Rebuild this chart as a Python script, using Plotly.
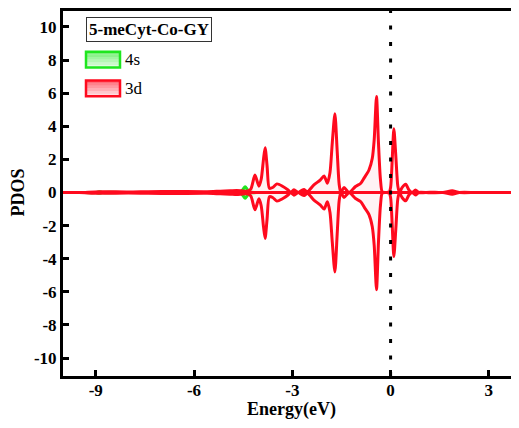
import plotly.graph_objects as go

# ---- data ----
energy = [-10.0, -9.5, -8.9, -8.0, -7.4, -6.6, -5.6, -5.2, -4.9, -4.7, -4.55, -4.4, -4.27, -4.14, -4.02,
          -3.95, -3.88, -3.83, -3.77, -3.7, -3.6, -3.47, -3.3, -3.13, -3.05, -2.95, -2.82, -2.72,
          -2.64, -2.54, -2.34, -2.15, -2.03, -1.93, -1.85, -1.78, -1.70, -1.63, -1.57, -1.52, -1.42,
          -1.27, -1.07, -0.91, -0.8, -0.66, -0.56, -0.50, -0.43, -0.37, -0.31, -0.25, -0.15, -0.05,
          0.0, 0.05, 0.10, 0.16, 0.22, 0.27, 0.35, 0.46, 0.56, 0.66, 0.76, 0.86, 1.2, 1.6, 1.88, 2.1,
          2.6, 3.2, 3.92]

d3_up = [0.0, 0.0, 0.05, 0.03, 0.05, 0.06, 0.05, 0.08, 0.1, 0.12, 0.1, 0.08, 0.2, 1.05, 0.38,
         0.8, 2.0, 2.7, 1.6, 0.25, 0.3, 0.52, 0.38, 0.15, 0.0, 0.16, 0.0, 0.12,
         0.18, 0.05, 0.46, 0.75, 1.0, 0.56, 1.2, 3.0, 4.75, 2.5, 0.5, 0.0, 0.3,
         0.0, 0.36, 0.56, 0.9, 1.36, 2.05, 3.2, 5.8, 3.0, 0.8, 0.0, 0.0, 0.0,
         0.3, 2.0, 3.85, 2.2, 0.4, 0.0, 0.3, 0.5, 0.15, 0.0, 0.15, 0.0, 0.02, 0.0, 0.1, 0.0,
         0.0, 0.0, 0.0]

d3_down = [0.0, 0.0, -0.05, -0.03, -0.05, -0.06, -0.05, -0.08, -0.1, -0.12, -0.1, -0.08, -0.2, -1.04, -0.38,
           -0.8, -2.05, -2.77, -1.6, -0.25, -0.3, -0.52, -0.38, -0.15, 0.0, -0.16, 0.0, -0.12,
           -0.18, -0.05, -0.46, -0.75, -1.0, -0.56, -1.2, -3.0, -4.8, -2.5, -0.5, 0.0, -0.3,
           0.0, -0.36, -0.56, -0.9, -1.34, -2.05, -3.2, -5.87, -3.0, -0.8, 0.0, 0.0, 0.0,
           -0.3, -2.0, -3.87, -2.2, -0.4, 0.0, -0.3, -0.5, -0.15, 0.0, -0.15, 0.0, -0.02, 0.0, -0.1, 0.0,
           0.0, 0.0, 0.0]

s4_energy = [-10.0, -9.5, -9.0, -8.9, -8.8, -8.0, -7.2, -6.7, -6.6, -6.5, -5.8, -5.0, -4.6, -4.5, -4.44,
             -4.38, -4.3, -4.1, -3.5, -2.5, -1.0, 0.5, 2.0, 3.0, 3.92]
s4_up = [0.0, 0.0, 0.0, 0.05, 0.0, 0.0, 0.0, 0.0, 0.06, 0.0, 0.0, 0.0, 0.0, 0.2, 0.35,
         0.2, 0.0, 0.0, 0.0, 0.0, 0.0, 0.0, 0.0, 0.0, 0.0]
s4_down = [0.0, 0.0, 0.0, -0.05, 0.0, 0.0, 0.0, 0.0, -0.06, 0.0, 0.0, 0.0, 0.0, -0.2, -0.35,
           -0.2, 0.0, 0.0, 0.0, 0.0, 0.0, 0.0, 0.0, 0.0, 0.0]

x_ticks = [-9, -6, -3, 0, 3]
y_ticks = [-10, -8, -6, -4, -2, 0, 2, 4, 6, 8, 10]
legend_names = ["4s", "3d"]

FONT = "Liberation Serif, Times New Roman, serif"
RED = "#ff0a1e"
GREEN = "#1ee61e"

fig = go.Figure()

for yv in (s4_up, s4_down):
    fig.add_trace(go.Scatter(x=s4_energy, y=yv, mode="lines", name="4s", showlegend=False,
                             line=dict(color=GREEN, width=3, shape="spline", smoothing=0.8),
                             fill="tozeroy", fillcolor="rgba(30,230,30,0.25)"))
for yv in (d3_up, d3_down):
    fig.add_trace(go.Scatter(x=energy, y=yv, mode="lines", name="3d", showlegend=False,
                             line=dict(color=RED, width=3, shape="spline", smoothing=0.7),
                             fill="tozeroy", fillcolor="rgba(255,10,30,0.05)"))

# red baseline through zero (drawn over the green)
fig.add_shape(type="line", x0=0, x1=1, y0=0, y1=0, xref="paper", yref="y",
              line=dict(color=RED, width=3), layer="above")

# Fermi level
fig.add_shape(type="line", x0=0, x1=0, y0=0, y1=1, xref="x", yref="paper",
              line=dict(color="black", width=3, dash="4px,12.5px"), layer="above")

# page -> paper helpers (plot area spans page x 63..519, y 8..376)
def px(v):
    return (v - 63) / 456.0

def py(v):
    return (376 - v) / 368.0

# title box
fig.add_annotation(text="<b>5-meCyt-Co-GY</b>", xref="paper", yref="paper",
                   x=px(86), y=py(14), xanchor="left", yanchor="top", showarrow=False,
                   font=dict(family=FONT, size=17, color="black"),
                   bordercolor="#333", borderwidth=1, borderpad=2, bgcolor="white")

# manual legend
legend_colors = [(GREEN, "rgba(30,230,30,"), (RED, "rgba(255,10,30,")]
legend_tops = [49, 78]
for name, (lc, fc), top in zip(legend_names, legend_colors, legend_tops):
    nstrip = 6
    for i in range(nstrip):
        a = 0.55 * (1 - i / nstrip) + 0.05
        fig.add_shape(type="rect", xref="paper", yref="paper",
                      x0=px(86), x1=px(120), y0=py(top + 16 * (i + 1) / nstrip), y1=py(top + 16 * i / nstrip),
                      line=dict(width=0), fillcolor=fc + f"{a:.2f})", layer="above")
    fig.add_shape(type="rect", xref="paper", yref="paper",
                  x0=px(86), x1=px(120), y0=py(top + 16), y1=py(top),
                  line=dict(color=lc, width=2.5), fillcolor="rgba(0,0,0,0)", layer="above")
    fig.add_annotation(text=name, xref="paper", yref="paper", x=px(123), y=py(top + 8),
                       xanchor="left", yanchor="middle", showarrow=False,
                       font=dict(family=FONT, size=17, color="black"))

# axis titles
fig.add_annotation(text="<b>Energy(eV)</b>", xref="paper", yref="paper", x=px(291), y=py(410),
                   xanchor="center", yanchor="middle", showarrow=False,
                   font=dict(family=FONT, size=18, color="black"))
fig.add_annotation(text="<b>PDOS</b>", xref="paper", yref="paper", x=px(18), y=py(191),
                   xanchor="center", yanchor="middle", showarrow=False, textangle=-90,
                   font=dict(family=FONT, size=18, color="black"))

fig.update_layout(
    width=511, height=420,
    margin=dict(l=55, r=0, t=0, b=52),
    paper_bgcolor="white", plot_bgcolor="white",
    font=dict(family=FONT, color="black"),
    showlegend=False,
    xaxis=dict(range=[-10, 3.92], tickmode="array", tickvals=x_ticks,
               ticktext=[f"<b>{v}</b>" for v in x_ticks],
               ticks="inside", ticklen=6, tickwidth=2.5, tickcolor="black",
               showline=True, linewidth=3, linecolor="black", mirror=True,
               showgrid=False, zeroline=False, ticklabelstandoff=-3,
               tickfont=dict(family=FONT, size=17, color="black")),
    yaxis=dict(range=[-11.08, 10.96], tickmode="array", tickvals=y_ticks,
               ticktext=[f"<b>{v}</b>" for v in y_ticks],
               ticks="inside", ticklen=6, tickwidth=2.5, tickcolor="black",
               showline=True, linewidth=3, linecolor="black", mirror=False,
               showgrid=False, zeroline=False,
               tickfont=dict(family=FONT, size=17, color="black")),
)

fig.write_html("out.html")
